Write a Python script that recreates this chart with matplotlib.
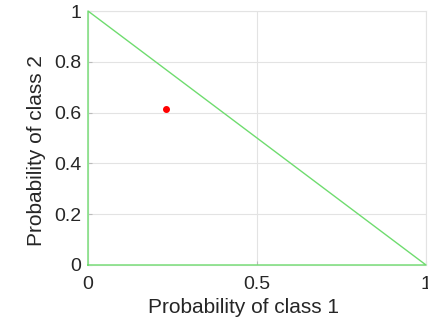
import numpy as np
from matplotlib import pyplot as plt

plt.rcParams['font.family'] = ['Liberation Sans', 'DejaVu Sans']

# simplex boundary (probability triangle)
tri_x = [0, 1, 0, 0]
tri_y = [0, 0, 1, 0]

# predicted point
pt_x = [0.23]
pt_y = [0.613]

fig = plt.figure(figsize=(4.28, 3.21), dpi=100)
ax = fig.add_axes([0.2056, 0.1745, 0.7897, 0.7912])

ax.plot(tri_x, tri_y, color='#6fdc6f', linewidth=1.0, clip_on=False, zorder=3)
ax.plot(pt_x, pt_y, 'o', color='#ff0000', markersize=4, zorder=4)

ax.set_xlim(0, 1)
ax.set_ylim(0, 1)
ax.set_xticks([0, 0.5, 1])
ax.set_xticklabels(['0', '0.5', '1'])
ax.set_yticks([0, 0.2, 0.4, 0.6, 0.8, 1])
ax.set_yticklabels(['0', '0.2', '0.4', '0.6', '0.8', '1'])
ax.grid(True, color='#e3e3e3', linewidth=0.8)
ax.set_axisbelow(True)
for s in ax.spines.values():
    s.set_color('#e3e3e3')
    s.set_linewidth(0.8)
ax.tick_params(direction='in', length=3, color='#bbbbbb', labelsize=14,
               labelcolor='#262626', top=False, right=False)
ax.tick_params(axis='x', pad=8)
ax.tick_params(axis='y', pad=5)

xl = ax.set_xlabel('Probability of class 1', fontsize=15, color='#262626')
yl = ax.set_ylabel('Probability of class 2', fontsize=15, color='#262626')
# matlab puts the labels a bit off-centre
ax.xaxis.set_label_coords(0.459, -0.169)
xl.set_va('center')
ax.yaxis.set_label_coords(-0.151, 0.449)
yl.set_va('center')

fig.savefig('out.png', dpi=100)
